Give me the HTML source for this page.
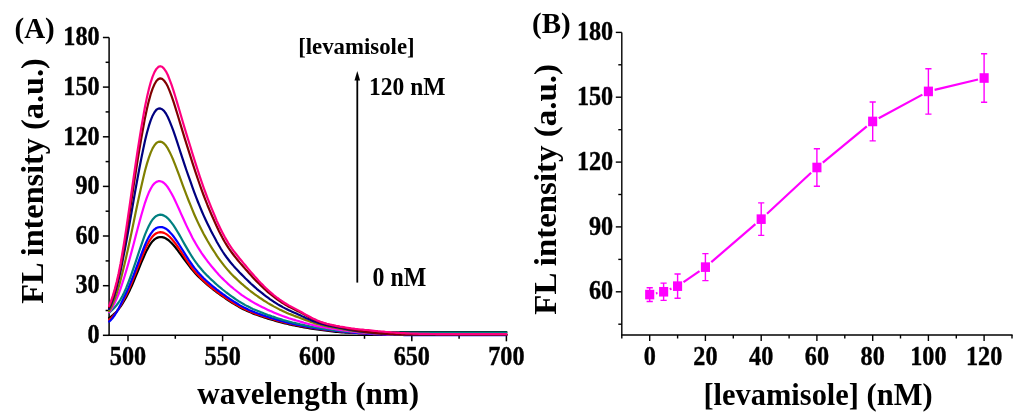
<!DOCTYPE html>
<html><head><meta charset="utf-8"><style>
html,body{margin:0;padding:0;background:#fff;}
svg{display:block;will-change:transform;}
text{font-family:"Liberation Serif",serif;font-weight:bold;fill:#000;}
.tk{stroke:#000;stroke-width:0.4px;}
</style></head><body>
<svg width="1024" height="420" viewBox="0 0 1024 420">

<g stroke="#000" stroke-width="1.5" fill="none"><line x1="109.1" y1="37.5" x2="109.1" y2="335.3"/><line x1="108.4" y1="335.3" x2="507.1" y2="335.3"/><line x1="102.9" y1="335.3" x2="109.1" y2="335.3"/><line x1="105.6" y1="310.5" x2="109.1" y2="310.5"/><line x1="102.9" y1="285.7" x2="109.1" y2="285.7"/><line x1="105.6" y1="260.9" x2="109.1" y2="260.9"/><line x1="102.9" y1="236.0" x2="109.1" y2="236.0"/><line x1="105.6" y1="211.2" x2="109.1" y2="211.2"/><line x1="102.9" y1="186.4" x2="109.1" y2="186.4"/><line x1="105.6" y1="161.6" x2="109.1" y2="161.6"/><line x1="102.9" y1="136.8" x2="109.1" y2="136.8"/><line x1="105.6" y1="111.9" x2="109.1" y2="111.9"/><line x1="102.9" y1="87.1" x2="109.1" y2="87.1"/><line x1="105.6" y1="62.3" x2="109.1" y2="62.3"/><line x1="102.9" y1="37.5" x2="109.1" y2="37.5"/><line x1="128.0" y1="335.3" x2="128.0" y2="341.3"/><line x1="175.3" y1="335.3" x2="175.3" y2="338.8"/><line x1="222.6" y1="335.3" x2="222.6" y2="341.3"/><line x1="269.9" y1="335.3" x2="269.9" y2="338.8"/><line x1="317.2" y1="335.3" x2="317.2" y2="341.3"/><line x1="364.5" y1="335.3" x2="364.5" y2="338.8"/><line x1="411.8" y1="335.3" x2="411.8" y2="341.3"/><line x1="459.1" y1="335.3" x2="459.1" y2="338.8"/><line x1="506.4" y1="335.3" x2="506.4" y2="341.3"/></g>
<g fill="none" stroke-width="2.2" stroke-linejoin="round" stroke-linecap="round"><polyline points="109.1,317.9 111.0,316.6 112.9,315.1 114.8,313.4 116.7,311.4 118.6,309.2 120.5,306.7 122.3,303.9 124.2,300.8 126.1,297.5 128.0,293.8 129.9,289.9 131.8,285.7 133.7,281.2 135.6,276.6 137.5,272.0 139.4,267.3 141.3,262.7 143.2,258.2 145.0,254.0 146.9,250.1 148.8,246.7 150.7,243.7 152.6,241.2 154.5,239.4 156.4,238.1 158.3,237.4 160.2,237.0 162.1,237.1 164.0,237.6 165.9,238.5 167.8,239.7 169.6,241.2 171.5,243.0 173.4,245.0 175.3,247.3 177.2,249.7 179.1,252.3 181.0,254.9 182.9,257.5 184.8,260.1 186.7,262.7 188.6,265.2 190.5,267.7 192.3,269.9 194.2,272.1 196.1,274.2 198.0,276.1 199.9,278.0 201.8,279.8 203.7,281.5 205.6,283.2 207.5,284.8 209.4,286.4 211.3,288.0 213.2,289.5 215.1,290.9 216.9,292.3 218.8,293.7 220.7,295.1 222.6,296.4 224.5,297.7 226.4,299.0 228.3,300.3 230.2,301.5 232.1,302.7 234.0,303.9 235.9,305.0 237.8,306.1 239.6,307.2 241.5,308.2 243.4,309.2 245.3,310.1 247.2,311.0 249.1,311.8 251.0,312.6 252.9,313.4 254.8,314.1 256.7,314.8 258.6,315.5 260.5,316.2 262.4,316.8 264.2,317.4 266.1,318.0 268.0,318.6 269.9,319.2 271.8,319.8 273.7,320.3 275.6,320.9 277.5,321.4 279.4,321.9 281.3,322.4 283.2,322.9 285.1,323.4 286.9,323.8 288.8,324.3 290.7,324.7 292.6,325.1 294.5,325.5 296.4,325.9 298.3,326.2 300.2,326.6 302.1,327.0 304.0,327.3 305.9,327.6 307.8,328.0 309.7,328.3 311.5,328.6 313.4,328.9 315.3,329.2 317.2,329.5 319.1,329.7 321.0,330.0 322.9,330.2 324.8,330.5 326.7,330.7 328.6,331.0 330.5,331.2 332.4,331.4 334.2,331.6 336.1,331.8 338.0,332.0 339.9,332.2 341.8,332.3 343.7,332.5 345.6,332.6 347.5,332.7 349.4,332.8 351.3,332.9 353.2,332.9 355.1,333.0 357.0,333.0 358.8,333.1 360.7,333.1 362.6,333.1 364.5,333.1 366.4,333.1 368.3,333.1 370.2,333.0 372.1,333.0 374.0,333.0 375.9,332.9 377.8,332.9 379.7,332.8 381.5,332.8 383.4,332.7 385.3,332.7 387.2,332.6 389.1,332.6 391.0,332.5 392.9,332.4 394.8,332.4 396.7,332.3 398.6,332.3 400.5,332.2 402.4,332.2 404.3,332.1 406.1,332.1 408.0,332.1 409.9,332.0 411.8,332.0 413.7,332.0 415.6,332.0 417.5,332.0 419.4,332.0 421.3,332.0 423.2,332.0 425.1,332.0 427.0,332.0 428.8,332.0 430.7,332.0 432.6,332.0 434.5,332.0 436.4,332.0 438.3,332.0 440.2,332.0 442.1,332.0 444.0,332.0 445.9,332.0 447.8,332.0 449.7,332.0 451.6,332.0 453.4,332.0 455.3,332.0 457.2,332.0 459.1,332.0 461.0,332.0 462.9,332.0 464.8,332.0 466.7,332.0 468.6,332.0 470.5,332.0 472.4,332.0 474.3,332.0 476.1,332.0 478.0,332.0 479.9,332.0 481.8,332.0 483.7,332.0 485.6,332.0 487.5,332.0 489.4,332.0 491.3,332.0 493.2,332.0 495.1,332.0 497.0,332.0 498.9,332.0 500.7,332.0 502.6,332.0 504.5,332.0 506.4,332.0" stroke="#000000"/><polyline points="109.1,319.7 111.0,318.3 112.9,316.4 114.8,314.2 116.7,311.6 118.6,308.8 120.5,305.7 122.3,302.4 124.2,298.8 126.1,295.2 128.0,291.3 129.9,287.1 131.8,282.6 133.7,277.9 135.6,273.1 137.5,268.2 139.4,263.3 141.3,258.5 143.2,253.9 145.0,249.5 146.9,245.5 148.8,241.9 150.7,238.9 152.6,236.4 154.5,234.5 156.4,233.3 158.3,232.5 160.2,232.2 162.1,232.4 164.0,232.9 165.9,233.9 167.8,235.2 169.6,236.8 171.5,238.8 173.4,241.0 175.3,243.4 177.2,246.0 179.1,248.7 181.0,251.6 182.9,254.5 184.8,257.5 186.7,260.3 188.6,263.1 190.5,265.8 192.3,268.4 194.2,270.8 196.1,273.0 198.0,275.1 199.9,277.1 201.8,279.0 203.7,280.8 205.6,282.5 207.5,284.2 209.4,285.8 211.3,287.3 213.2,288.8 215.1,290.2 216.9,291.7 218.8,293.0 220.7,294.4 222.6,295.7 224.5,297.0 226.4,298.3 228.3,299.6 230.2,300.8 232.1,302.0 234.0,303.2 235.9,304.3 237.8,305.4 239.6,306.5 241.5,307.5 243.4,308.4 245.3,309.4 247.2,310.2 249.1,311.1 251.0,311.9 252.9,312.6 254.8,313.4 256.7,314.1 258.6,314.7 260.5,315.4 262.4,316.0 264.2,316.6 266.1,317.2 268.0,317.8 269.9,318.4 271.8,319.0 273.7,319.5 275.6,320.1 277.5,320.6 279.4,321.1 281.3,321.6 283.2,322.1 285.1,322.6 286.9,323.0 288.8,323.5 290.7,323.9 292.6,324.3 294.5,324.7 296.4,325.1 298.3,325.5 300.2,325.8 302.1,326.2 304.0,326.5 305.9,326.8 307.8,327.2 309.7,327.5 311.5,327.8 313.4,328.1 315.3,328.4 317.2,328.7 319.1,328.9 321.0,329.2 322.9,329.4 324.8,329.7 326.7,329.9 328.6,330.1 330.5,330.4 332.4,330.6 334.2,330.8 336.1,331.0 338.0,331.2 339.9,331.4 341.8,331.6 343.7,331.8 345.6,332.0 347.5,332.2 349.4,332.4 351.3,332.6 353.2,332.7 355.1,332.9 357.0,333.0 358.8,333.1 360.7,333.3 362.6,333.4 364.5,333.5 366.4,333.6 368.3,333.7 370.2,333.9 372.1,334.0 374.0,334.1 375.9,334.1 377.8,334.2 379.7,334.3 381.5,334.4 383.4,334.5 385.3,334.5 387.2,334.6 389.1,334.6 391.0,334.7 392.9,334.7 394.8,334.8 396.7,334.8 398.6,334.8 400.5,334.9 402.4,334.9 404.3,334.9 406.1,334.9 408.0,334.9 409.9,335.0 411.8,335.0 413.7,335.0 415.6,335.0 417.5,335.0 419.4,335.0 421.3,335.0 423.2,335.0 425.1,335.0 427.0,335.0 428.8,335.0 430.7,335.0 432.6,335.0 434.5,335.0 436.4,335.0 438.3,335.0 440.2,335.0 442.1,335.0 444.0,335.0 445.9,335.0 447.8,335.0 449.7,335.0 451.6,335.0 453.4,335.0 455.3,335.0 457.2,335.0 459.1,335.0 461.0,335.0 462.9,335.0 464.8,335.0 466.7,335.0 468.6,335.0 470.5,335.0 472.4,335.0 474.3,335.0 476.1,335.0 478.0,335.0 479.9,335.0 481.8,335.0 483.7,335.0 485.6,335.0 487.5,335.0 489.4,335.0 491.3,335.0 493.2,335.0 495.1,335.0 497.0,335.0 498.9,335.0 500.7,335.0 502.6,335.0 504.5,335.0 506.4,335.0" stroke="#ff0000"/><polyline points="109.1,321.6 111.0,319.9 112.9,317.7 114.8,315.0 116.7,311.9 118.6,308.5 120.5,304.8 122.3,301.0 124.2,297.0 126.1,293.0 128.0,288.9 129.9,284.4 131.8,279.7 133.7,274.8 135.6,269.7 137.5,264.6 139.4,259.4 141.3,254.4 143.2,249.5 145.0,245.0 146.9,240.8 148.8,237.1 150.7,233.9 152.6,231.3 154.5,229.3 156.4,228.0 158.3,227.3 160.2,227.0 162.1,227.1 164.0,227.7 165.9,228.7 167.8,230.1 169.6,231.9 171.5,233.9 173.4,236.3 175.3,238.8 177.2,241.6 179.1,244.5 181.0,247.5 182.9,250.5 184.8,253.6 186.7,256.6 188.6,259.6 190.5,262.4 192.3,265.0 194.2,267.6 196.1,269.9 198.0,272.2 199.9,274.3 201.8,276.3 203.7,278.2 205.6,280.0 207.5,281.7 209.4,283.4 211.3,285.0 213.2,286.6 215.1,288.1 216.9,289.6 218.8,291.0 220.7,292.5 222.6,293.9 224.5,295.2 226.4,296.6 228.3,297.9 230.2,299.2 232.1,300.4 234.0,301.6 235.9,302.8 237.8,304.0 239.6,305.1 241.5,306.1 243.4,307.1 245.3,308.1 247.2,309.0 249.1,309.9 251.0,310.7 252.9,311.5 254.8,312.3 256.7,313.0 258.6,313.7 260.5,314.4 262.4,315.1 264.2,315.7 266.1,316.4 268.0,317.0 269.9,317.6 271.8,318.2 273.7,318.8 275.6,319.3 277.5,319.9 279.4,320.4 281.3,321.0 283.2,321.5 285.1,322.0 286.9,322.4 288.8,322.9 290.7,323.3 292.6,323.8 294.5,324.2 296.4,324.6 298.3,325.0 300.2,325.3 302.1,325.7 304.0,326.1 305.9,326.4 307.8,326.8 309.7,327.1 311.5,327.4 313.4,327.8 315.3,328.1 317.2,328.4 319.1,328.6 321.0,328.9 322.9,329.2 324.8,329.4 326.7,329.7 328.6,329.9 330.5,330.1 332.4,330.4 334.2,330.6 336.1,330.8 338.0,331.0 339.9,331.3 341.8,331.5 343.7,331.7 345.6,331.9 347.5,332.1 349.4,332.3 351.3,332.5 353.2,332.6 355.1,332.8 357.0,332.9 358.8,333.1 360.7,333.2 362.6,333.4 364.5,333.5 366.4,333.6 368.3,333.7 370.2,333.9 372.1,334.0 374.0,334.1 375.9,334.2 377.8,334.3 379.7,334.4 381.5,334.5 383.4,334.5 385.3,334.6 387.2,334.7 389.1,334.7 391.0,334.8 392.9,334.8 394.8,334.9 396.7,334.9 398.6,335.0 400.5,335.0 402.4,335.0 404.3,335.1 406.1,335.1 408.0,335.1 409.9,335.1 411.8,335.1 413.7,335.1 415.6,335.1 417.5,335.1 419.4,335.1 421.3,335.1 423.2,335.1 425.1,335.1 427.0,335.1 428.8,335.1 430.7,335.1 432.6,335.1 434.5,335.1 436.4,335.1 438.3,335.1 440.2,335.1 442.1,335.1 444.0,335.1 445.9,335.1 447.8,335.1 449.7,335.1 451.6,335.1 453.4,335.1 455.3,335.1 457.2,335.1 459.1,335.1 461.0,335.1 462.9,335.1 464.8,335.1 466.7,335.1 468.6,335.1 470.5,335.1 472.4,335.1 474.3,335.1 476.1,335.1 478.0,335.1 479.9,335.1 481.8,335.1 483.7,335.1 485.6,335.1 487.5,335.1 489.4,335.1 491.3,335.1 493.2,335.1 495.1,335.1 497.0,335.1 498.9,335.1 500.7,335.1 502.6,335.1 504.5,335.1 506.4,335.1" stroke="#0000ff"/><polyline points="109.1,312.6 111.0,311.0 112.9,309.2 114.8,307.2 116.7,305.0 118.6,302.5 120.5,299.5 122.3,296.2 124.2,292.4 126.1,288.2 128.0,283.5 129.9,278.5 131.8,273.2 133.7,267.7 135.6,262.1 137.5,256.3 139.4,250.6 141.3,245.1 143.2,239.7 145.0,234.7 146.9,230.1 148.8,226.0 150.7,222.4 152.6,219.5 154.5,217.4 156.4,215.9 158.3,215.1 160.2,214.7 162.1,214.9 164.0,215.6 165.9,216.7 167.8,218.3 169.6,220.3 171.5,222.6 173.4,225.2 175.3,228.1 177.2,231.2 179.1,234.4 181.0,237.8 182.9,241.2 184.8,244.6 186.7,247.9 188.6,251.1 190.5,254.2 192.3,257.2 194.2,260.0 196.1,262.7 198.0,265.2 199.9,267.5 201.8,269.8 203.7,271.9 205.6,273.9 207.5,275.9 209.4,277.8 211.3,279.6 213.2,281.3 215.1,283.1 216.9,284.7 218.8,286.4 220.7,287.9 222.6,289.5 224.5,291.0 226.4,292.5 228.3,293.9 230.2,295.3 232.1,296.7 234.0,298.0 235.9,299.3 237.8,300.6 239.6,301.8 241.5,302.9 243.4,304.0 245.3,305.1 247.2,306.1 249.1,307.0 251.0,308.0 252.9,308.9 254.8,309.7 256.7,310.5 258.6,311.3 260.5,312.1 262.4,312.8 264.2,313.6 266.1,314.3 268.0,315.0 269.9,315.6 271.8,316.3 273.7,316.9 275.6,317.6 277.5,318.2 279.4,318.8 281.3,319.4 283.2,320.0 285.1,320.5 286.9,321.0 288.8,321.5 290.7,322.0 292.6,322.5 294.5,322.9 296.4,323.4 298.3,323.8 300.2,324.3 302.1,324.7 304.0,325.1 305.9,325.5 307.8,325.9 309.7,326.3 311.5,326.6 313.4,327.0 315.3,327.3 317.2,327.7 319.1,328.0 321.0,328.3 322.9,328.6 324.8,328.9 326.7,329.1 328.6,329.4 330.5,329.6 332.4,329.9 334.2,330.1 336.1,330.3 338.0,330.6 339.9,330.8 341.8,331.0 343.7,331.2 345.6,331.4 347.5,331.6 349.4,331.7 351.3,331.8 353.2,332.0 355.1,332.1 357.0,332.2 358.8,332.3 360.7,332.4 362.6,332.4 364.5,332.5 366.4,332.6 368.3,332.6 370.2,332.7 372.1,332.7 374.0,332.7 375.9,332.8 377.8,332.8 379.7,332.8 381.5,332.8 383.4,332.8 385.3,332.8 387.2,332.8 389.1,332.8 391.0,332.8 392.9,332.8 394.8,332.8 396.7,332.8 398.6,332.7 400.5,332.7 402.4,332.7 404.3,332.7 406.1,332.7 408.0,332.7 409.9,332.7 411.8,332.7 413.7,332.7 415.6,332.7 417.5,332.7 419.4,332.7 421.3,332.7 423.2,332.7 425.1,332.7 427.0,332.7 428.8,332.7 430.7,332.7 432.6,332.7 434.5,332.7 436.4,332.7 438.3,332.7 440.2,332.7 442.1,332.7 444.0,332.7 445.9,332.7 447.8,332.7 449.7,332.7 451.6,332.7 453.4,332.7 455.3,332.7 457.2,332.7 459.1,332.7 461.0,332.7 462.9,332.7 464.8,332.7 466.7,332.7 468.6,332.7 470.5,332.7 472.4,332.7 474.3,332.7 476.1,332.7 478.0,332.7 479.9,332.7 481.8,332.7 483.7,332.7 485.6,332.7 487.5,332.7 489.4,332.7 491.3,332.7 493.2,332.7 495.1,332.7 497.0,332.7 498.9,332.7 500.7,332.7 502.6,332.7 504.5,332.7 506.4,332.7" stroke="#008080"/><polyline points="109.1,312.1 111.0,309.5 112.9,306.4 114.8,302.8 116.7,298.6 118.6,294.0 120.5,288.9 122.3,283.4 124.2,277.5 126.1,271.3 128.0,264.8 129.9,258.0 131.8,250.9 133.7,243.7 135.6,236.4 137.5,229.2 139.4,222.1 141.3,215.3 143.2,208.8 145.0,202.8 146.9,197.4 148.8,192.6 150.7,188.7 152.6,185.5 154.5,183.3 156.4,181.9 158.3,181.2 160.2,181.2 162.1,181.8 164.0,183.0 165.9,184.9 167.8,187.3 169.6,190.2 171.5,193.5 173.4,197.1 175.3,201.0 177.2,205.1 179.1,209.3 181.0,213.6 182.9,217.8 184.8,222.0 186.7,226.1 188.6,230.0 190.5,233.8 192.3,237.4 194.2,240.9 196.1,244.2 198.0,247.4 199.9,250.4 201.8,253.3 203.7,256.0 205.6,258.6 207.5,261.2 209.4,263.6 211.3,266.0 213.2,268.2 215.1,270.5 216.9,272.6 218.8,274.7 220.7,276.7 222.6,278.6 224.5,280.5 226.4,282.3 228.3,284.1 230.2,285.8 232.1,287.4 234.0,289.0 235.9,290.5 237.8,292.0 239.6,293.4 241.5,294.8 243.4,296.1 245.3,297.4 247.2,298.6 249.1,299.8 251.0,301.0 252.9,302.1 254.8,303.2 256.7,304.2 258.6,305.3 260.5,306.2 262.4,307.2 264.2,308.1 266.1,309.0 268.0,309.9 269.9,310.8 271.8,311.6 273.7,312.4 275.6,313.2 277.5,314.0 279.4,314.8 281.3,315.5 283.2,316.2 285.1,316.9 286.9,317.5 288.8,318.2 290.7,318.8 292.6,319.4 294.5,319.9 296.4,320.5 298.3,321.0 300.2,321.6 302.1,322.1 304.0,322.7 305.9,323.2 307.8,323.7 309.7,324.2 311.5,324.7 313.4,325.2 315.3,325.6 317.2,326.1 319.1,326.5 321.0,326.8 322.9,327.2 324.8,327.5 326.7,327.9 328.6,328.2 330.5,328.5 332.4,328.8 334.2,329.0 336.1,329.3 338.0,329.6 339.9,329.9 341.8,330.2 343.7,330.5 345.6,330.7 347.5,331.0 349.4,331.2 351.3,331.5 353.2,331.7 355.1,331.9 357.0,332.1 358.8,332.3 360.7,332.5 362.6,332.6 364.5,332.8 366.4,333.0 368.3,333.1 370.2,333.3 372.1,333.4 374.0,333.5 375.9,333.7 377.8,333.8 379.7,333.9 381.5,334.0 383.4,334.1 385.3,334.2 387.2,334.3 389.1,334.3 391.0,334.4 392.9,334.5 394.8,334.5 396.7,334.6 398.6,334.6 400.5,334.7 402.4,334.7 404.3,334.7 406.1,334.8 408.0,334.8 409.9,334.8 411.8,334.8 413.7,334.8 415.6,334.8 417.5,334.8 419.4,334.8 421.3,334.8 423.2,334.8 425.1,334.8 427.0,334.8 428.8,334.8 430.7,334.8 432.6,334.8 434.5,334.8 436.4,334.8 438.3,334.8 440.2,334.8 442.1,334.8 444.0,334.8 445.9,334.8 447.8,334.8 449.7,334.8 451.6,334.8 453.4,334.8 455.3,334.8 457.2,334.8 459.1,334.8 461.0,334.8 462.9,334.8 464.8,334.8 466.7,334.8 468.6,334.8 470.5,334.8 472.4,334.8 474.3,334.8 476.1,334.8 478.0,334.8 479.9,334.8 481.8,334.8 483.7,334.8 485.6,334.8 487.5,334.8 489.4,334.8 491.3,334.8 493.2,334.8 495.1,334.8 497.0,334.8 498.9,334.8 500.7,334.8 502.6,334.8 504.5,334.8 506.4,334.8" stroke="#ff00ff"/><polyline points="109.1,311.1 111.0,307.8 112.9,303.7 114.8,298.9 116.7,293.5 118.6,287.3 120.5,280.6 122.3,273.3 124.2,265.5 126.1,257.4 128.0,249.0 129.9,240.2 131.8,231.2 133.7,222.0 135.6,212.8 137.5,203.8 139.4,194.9 141.3,186.4 143.2,178.3 145.0,170.7 146.9,163.9 148.8,157.8 150.7,152.6 152.6,148.4 154.5,145.2 156.4,143.0 158.3,141.9 160.2,141.6 162.1,142.1 164.0,143.5 165.9,145.6 167.8,148.4 169.6,151.9 171.5,155.9 173.4,160.3 175.3,165.1 177.2,170.1 179.1,175.2 181.0,180.4 182.9,185.6 184.8,190.7 186.7,195.7 188.6,200.5 190.5,205.2 192.3,209.7 194.2,214.2 196.1,218.5 198.0,222.6 199.9,226.5 201.8,230.3 203.7,234.0 205.6,237.4 207.5,240.8 209.4,244.0 211.3,247.1 213.2,250.1 215.1,253.0 216.9,255.9 218.8,258.6 220.7,261.2 222.6,263.7 224.5,266.1 226.4,268.4 228.3,270.6 230.2,272.7 232.1,274.7 234.0,276.6 235.9,278.4 237.8,280.2 239.6,281.9 241.5,283.6 243.4,285.2 245.3,286.9 247.2,288.4 249.1,290.0 251.0,291.5 252.9,292.9 254.8,294.3 256.7,295.7 258.6,297.0 260.5,298.3 262.4,299.5 264.2,300.8 266.1,301.9 268.0,303.1 269.9,304.2 271.8,305.3 273.7,306.4 275.6,307.4 277.5,308.4 279.4,309.4 281.3,310.3 283.2,311.2 285.1,312.1 286.9,312.9 288.8,313.7 290.7,314.4 292.6,315.1 294.5,315.9 296.4,316.6 298.3,317.3 300.2,318.0 302.1,318.7 304.0,319.4 305.9,320.1 307.8,320.8 309.7,321.5 311.5,322.2 313.4,322.8 315.3,323.4 317.2,323.9 319.1,324.5 321.0,325.0 322.9,325.4 324.8,325.8 326.7,326.2 328.6,326.6 330.5,327.0 332.4,327.3 334.2,327.7 336.1,328.0 338.0,328.3 339.9,328.7 341.8,329.0 343.7,329.4 345.6,329.7 347.5,330.0 349.4,330.3 351.3,330.6 353.2,330.9 355.1,331.1 357.0,331.4 358.8,331.6 360.7,331.9 362.6,332.1 364.5,332.3 366.4,332.5 368.3,332.7 370.2,332.9 372.1,333.1 374.0,333.2 375.9,333.4 377.8,333.5 379.7,333.7 381.5,333.8 383.4,333.9 385.3,334.0 387.2,334.1 389.1,334.2 391.0,334.3 392.9,334.4 394.8,334.5 396.7,334.5 398.6,334.6 400.5,334.6 402.4,334.7 404.3,334.7 406.1,334.7 408.0,334.8 409.9,334.8 411.8,334.8 413.7,334.8 415.6,334.8 417.5,334.8 419.4,334.8 421.3,334.8 423.2,334.8 425.1,334.8 427.0,334.8 428.8,334.8 430.7,334.8 432.6,334.8 434.5,334.8 436.4,334.8 438.3,334.8 440.2,334.8 442.1,334.8 444.0,334.8 445.9,334.8 447.8,334.8 449.7,334.8 451.6,334.8 453.4,334.8 455.3,334.8 457.2,334.8 459.1,334.8 461.0,334.8 462.9,334.8 464.8,334.8 466.7,334.8 468.6,334.8 470.5,334.8 472.4,334.8 474.3,334.8 476.1,334.8 478.0,334.8 479.9,334.8 481.8,334.8 483.7,334.8 485.6,334.8 487.5,334.8 489.4,334.8 491.3,334.8 493.2,334.8 495.1,334.8 497.0,334.8 498.9,334.8 500.7,334.8 502.6,334.8 504.5,334.8 506.4,334.8" stroke="#808000"/><polyline points="109.1,308.8 111.0,304.7 112.9,299.6 114.8,293.8 116.7,287.1 118.6,279.6 120.5,271.3 122.3,262.3 124.2,252.7 126.1,242.7 128.0,232.3 129.9,221.6 131.8,210.7 133.7,199.8 135.6,189.0 137.5,178.5 139.4,168.3 141.3,158.5 143.2,149.3 145.0,140.8 146.9,133.0 148.8,126.2 150.7,120.4 152.6,115.7 154.5,112.2 156.4,109.8 158.3,108.6 160.2,108.4 162.1,109.2 164.0,110.9 165.9,113.5 167.8,117.0 169.6,121.1 171.5,125.8 173.4,130.9 175.3,136.4 177.2,142.1 179.1,148.0 181.0,153.9 182.9,159.7 184.8,165.4 186.7,171.0 188.6,176.4 190.5,181.7 192.3,186.9 194.2,192.1 196.1,197.1 198.0,202.0 199.9,206.7 201.8,211.2 203.7,215.6 205.6,219.8 207.5,223.8 209.4,227.6 211.3,231.4 213.2,235.1 215.1,238.6 216.9,242.0 218.8,245.3 220.7,248.5 222.6,251.5 224.5,254.3 226.4,257.0 228.3,259.5 230.2,262.0 232.1,264.2 234.0,266.4 235.9,268.5 237.8,270.5 239.6,272.5 241.5,274.4 243.4,276.3 245.3,278.2 247.2,280.0 249.1,281.9 251.0,283.7 252.9,285.4 254.8,287.1 256.7,288.8 258.6,290.4 260.5,291.9 262.4,293.4 264.2,294.9 266.1,296.3 268.0,297.7 269.9,299.1 271.8,300.4 273.7,301.7 275.6,302.9 277.5,304.1 279.4,305.2 281.3,306.3 283.2,307.4 285.1,308.4 286.9,309.3 288.8,310.2 290.7,311.1 292.6,311.9 294.5,312.8 296.4,313.6 298.3,314.4 300.2,315.3 302.1,316.2 304.0,317.0 305.9,317.9 307.8,318.7 309.7,319.6 311.5,320.4 313.4,321.1 315.3,321.8 317.2,322.5 319.1,323.1 321.0,323.7 322.9,324.2 324.8,324.7 326.7,325.2 328.6,325.6 330.5,326.0 332.4,326.4 334.2,326.7 336.1,327.1 338.0,327.5 339.9,327.8 341.8,328.2 343.7,328.6 345.6,329.0 347.5,329.3 349.4,329.7 351.3,330.0 353.2,330.3 355.1,330.6 357.0,330.9 358.8,331.2 360.7,331.4 362.6,331.7 364.5,331.9 366.4,332.1 368.3,332.3 370.2,332.5 372.1,332.7 374.0,332.9 375.9,333.1 377.8,333.3 379.7,333.4 381.5,333.6 383.4,333.7 385.3,333.8 387.2,333.9 389.1,334.0 391.0,334.1 392.9,334.2 394.8,334.3 396.7,334.4 398.6,334.4 400.5,334.5 402.4,334.5 404.3,334.5 406.1,334.6 408.0,334.6 409.9,334.6 411.8,334.6 413.7,334.6 415.6,334.6 417.5,334.6 419.4,334.6 421.3,334.6 423.2,334.6 425.1,334.6 427.0,334.6 428.8,334.6 430.7,334.6 432.6,334.6 434.5,334.6 436.4,334.6 438.3,334.6 440.2,334.6 442.1,334.6 444.0,334.6 445.9,334.6 447.8,334.6 449.7,334.6 451.6,334.6 453.4,334.6 455.3,334.6 457.2,334.6 459.1,334.6 461.0,334.6 462.9,334.6 464.8,334.6 466.7,334.6 468.6,334.6 470.5,334.6 472.4,334.6 474.3,334.6 476.1,334.6 478.0,334.6 479.9,334.6 481.8,334.6 483.7,334.6 485.6,334.6 487.5,334.6 489.4,334.6 491.3,334.6 493.2,334.6 495.1,334.6 497.0,334.6 498.9,334.6 500.7,334.6 502.6,334.6 504.5,334.6 506.4,334.6" stroke="#000080"/><polyline points="109.1,307.2 111.0,302.6 112.9,297.3 114.8,291.2 116.7,284.2 118.6,276.2 120.5,267.2 122.3,257.3 124.2,246.6 126.1,235.1 128.0,223.1 129.9,210.6 131.8,198.0 133.7,185.4 135.6,173.0 137.5,160.9 139.4,149.3 141.3,138.2 143.2,127.7 145.0,117.9 146.9,109.0 148.8,101.1 150.7,94.2 152.6,88.6 154.5,84.2 156.4,81.0 158.3,79.1 160.2,78.4 162.1,78.9 164.0,80.5 165.9,83.1 167.8,86.6 169.6,90.9 171.5,95.9 173.4,101.4 175.3,107.3 177.2,113.5 179.1,119.8 181.0,126.1 182.9,132.4 184.8,138.6 186.7,144.7 188.6,150.7 190.5,156.6 192.3,162.4 194.2,168.2 196.1,173.9 198.0,179.5 199.9,185.0 201.8,190.4 203.7,195.5 205.6,200.4 207.5,205.2 209.4,209.7 211.3,214.2 213.2,218.5 215.1,222.8 216.9,226.8 218.8,230.8 220.7,234.5 222.6,238.1 224.5,241.5 226.4,244.6 228.3,247.6 230.2,250.4 232.1,253.0 234.0,255.5 235.9,257.9 237.8,260.2 239.6,262.4 241.5,264.6 243.4,266.7 245.3,268.9 247.2,271.0 249.1,273.2 251.0,275.3 252.9,277.4 254.8,279.4 256.7,281.4 258.6,283.3 260.5,285.2 262.4,287.0 264.2,288.7 266.1,290.4 268.0,292.1 269.9,293.7 271.8,295.2 273.7,296.7 275.6,298.2 277.5,299.6 279.4,300.9 281.3,302.2 283.2,303.4 285.1,304.5 286.9,305.6 288.8,306.7 290.7,307.6 292.6,308.6 294.5,309.5 296.4,310.5 298.3,311.4 300.2,312.4 302.1,313.4 304.0,314.4 305.9,315.4 307.8,316.5 309.7,317.4 311.5,318.4 313.4,319.3 315.3,320.1 317.2,320.9 319.1,321.7 321.0,322.4 322.9,323.0 324.8,323.5 326.7,324.1 328.6,324.5 330.5,325.0 332.4,325.4 334.2,325.8 336.1,326.2 338.0,326.6 339.9,327.0 341.8,327.4 343.7,327.8 345.6,328.2 347.5,328.6 349.4,329.0 351.3,329.4 353.2,329.7 355.1,330.1 357.0,330.4 358.8,330.7 360.7,331.0 362.6,331.2 364.5,331.5 366.4,331.8 368.3,332.0 370.2,332.2 372.1,332.4 374.0,332.6 375.9,332.8 377.8,333.0 379.7,333.2 381.5,333.3 383.4,333.5 385.3,333.6 387.2,333.7 389.1,333.8 391.0,333.9 392.9,334.0 394.8,334.1 396.7,334.2 398.6,334.2 400.5,334.3 402.4,334.3 404.3,334.4 406.1,334.4 408.0,334.4 409.9,334.5 411.8,334.5 413.7,334.5 415.6,334.5 417.5,334.5 419.4,334.5 421.3,334.5 423.2,334.5 425.1,334.5 427.0,334.5 428.8,334.5 430.7,334.5 432.6,334.5 434.5,334.5 436.4,334.5 438.3,334.5 440.2,334.5 442.1,334.5 444.0,334.5 445.9,334.5 447.8,334.5 449.7,334.5 451.6,334.5 453.4,334.5 455.3,334.5 457.2,334.5 459.1,334.5 461.0,334.5 462.9,334.5 464.8,334.5 466.7,334.5 468.6,334.5 470.5,334.5 472.4,334.5 474.3,334.5 476.1,334.5 478.0,334.5 479.9,334.5 481.8,334.5 483.7,334.5 485.6,334.5 487.5,334.5 489.4,334.5 491.3,334.5 493.2,334.5 495.1,334.5 497.0,334.5 498.9,334.5 500.7,334.5 502.6,334.5 504.5,334.5 506.4,334.5" stroke="#800000"/><polyline points="109.1,305.9 111.0,301.0 112.9,295.5 114.8,289.1 116.7,281.7 118.6,273.4 120.5,264.0 122.3,253.5 124.2,242.1 126.1,229.9 128.0,217.0 129.9,203.8 131.8,190.5 133.7,177.2 135.6,164.1 137.5,151.5 139.4,139.3 141.3,127.8 143.2,116.9 145.0,106.8 146.9,97.6 148.8,89.4 150.7,82.4 152.6,76.6 154.5,72.1 156.4,68.9 158.3,66.9 160.2,66.2 162.1,66.8 164.0,68.6 165.9,71.3 167.8,75.0 169.6,79.6 171.5,84.7 173.4,90.4 175.3,96.5 177.2,102.9 179.1,109.3 181.0,115.8 182.9,122.3 184.8,128.6 186.7,134.9 188.6,141.0 190.5,147.0 192.3,153.1 194.2,159.1 196.1,165.1 198.0,171.0 199.9,176.8 201.8,182.4 203.7,187.8 205.6,193.0 207.5,198.1 209.4,202.9 211.3,207.6 213.2,212.2 215.1,216.7 216.9,221.1 218.8,225.2 220.7,229.2 222.6,233.0 224.5,236.6 226.4,239.9 228.3,243.1 230.2,246.0 232.1,248.8 234.0,251.4 235.9,253.8 237.8,256.2 239.6,258.5 241.5,260.8 243.4,263.1 245.3,265.3 247.2,267.6 249.1,269.9 251.0,272.1 252.9,274.3 254.8,276.5 256.7,278.6 258.6,280.7 260.5,282.7 262.4,284.6 264.2,286.5 266.1,288.3 268.0,290.0 269.9,291.7 271.8,293.4 273.7,295.0 275.6,296.5 277.5,298.0 279.4,299.4 281.3,300.7 283.2,302.0 285.1,303.2 286.9,304.3 288.8,305.4 290.7,306.4 292.6,307.4 294.5,308.4 296.4,309.4 298.3,310.4 300.2,311.4 302.1,312.5 304.0,313.6 305.9,314.7 307.8,315.7 309.7,316.8 311.5,317.8 313.4,318.7 315.3,319.6 317.2,320.5 319.1,321.2 321.0,322.0 322.9,322.6 324.8,323.2 326.7,323.8 328.6,324.2 330.5,324.7 332.4,325.1 334.2,325.5 336.1,325.9 338.0,326.2 339.9,326.6 341.8,326.9 343.7,327.2 345.6,327.5 347.5,327.8 349.4,328.1 351.3,328.4 353.2,328.6 355.1,328.9 357.0,329.1 358.8,329.3 360.7,329.5 362.6,329.7 364.5,329.9 366.4,330.0 368.3,330.2 370.2,330.4 372.1,330.6 374.0,330.8 375.9,331.0 377.8,331.2 379.7,331.3 381.5,331.5 383.4,331.7 385.3,331.9 387.2,332.0 389.1,332.2 391.0,332.4 392.9,332.5 394.8,332.6 396.7,332.8 398.6,332.9 400.5,333.0 402.4,333.1 404.3,333.2 406.1,333.3 408.0,333.4 409.9,333.5 411.8,333.5 413.7,333.6 415.6,333.7 417.5,333.7 419.4,333.8 421.3,333.8 423.2,333.8 425.1,333.9 427.0,333.9 428.8,333.9 430.7,334.0 432.6,334.0 434.5,334.0 436.4,334.1 438.3,334.1 440.2,334.1 442.1,334.1 444.0,334.1 445.9,334.1 447.8,334.1 449.7,334.1 451.6,334.1 453.4,334.1 455.3,334.1 457.2,334.1 459.1,334.1 461.0,334.1 462.9,334.1 464.8,334.1 466.7,334.1 468.6,334.1 470.5,334.1 472.4,334.1 474.3,334.1 476.1,334.1 478.0,334.1 479.9,334.1 481.8,334.1 483.7,334.1 485.6,334.1 487.5,334.1 489.4,334.1 491.3,334.1 493.2,334.1 495.1,334.1 497.0,334.1 498.9,334.1 500.7,334.1 502.6,334.1 504.5,334.1 506.4,334.1" stroke="#ff0080"/></g>
<line x1="357.3" y1="282.6" x2="357.3" y2="79" stroke="#000" stroke-width="1.8"/>
<path d="M357.3,71 L360.1,80.5 L354.5,80.5 Z" fill="#000"/>
<text x="14.524000000000001" y="37.7" font-size="29" text-anchor="start" >(A)</text><text class="tk" x="99.6" y="343.1" font-size="27.2" text-anchor="end" transform="translate(99.6 0) scale(0.89 1) translate(-99.6 0)">0</text><text class="tk" x="99.6" y="293.5" font-size="27.2" text-anchor="end" transform="translate(99.6 0) scale(0.89 1) translate(-99.6 0)">30</text><text class="tk" x="99.6" y="243.8" font-size="27.2" text-anchor="end" transform="translate(99.6 0) scale(0.89 1) translate(-99.6 0)">60</text><text class="tk" x="99.6" y="194.2" font-size="27.2" text-anchor="end" transform="translate(99.6 0) scale(0.89 1) translate(-99.6 0)">90</text><text class="tk" x="99.6" y="144.6" font-size="27.2" text-anchor="end" transform="translate(99.6 0) scale(0.89 1) translate(-99.6 0)">120</text><text class="tk" x="99.6" y="94.9" font-size="27.2" text-anchor="end" transform="translate(99.6 0) scale(0.89 1) translate(-99.6 0)">150</text><text class="tk" x="99.6" y="45.3" font-size="27.2" text-anchor="end" transform="translate(99.6 0) scale(0.89 1) translate(-99.6 0)">180</text><text class="tk" x="128.0" y="364.9" font-size="27.2" text-anchor="middle" transform="translate(128.0 0) scale(0.89 1) translate(-128.0 0)">500</text><text class="tk" x="222.6" y="364.9" font-size="27.2" text-anchor="middle" transform="translate(222.6 0) scale(0.89 1) translate(-222.6 0)">550</text><text class="tk" x="317.2" y="364.9" font-size="27.2" text-anchor="middle" transform="translate(317.2 0) scale(0.89 1) translate(-317.2 0)">600</text><text class="tk" x="411.8" y="364.9" font-size="27.2" text-anchor="middle" transform="translate(411.8 0) scale(0.89 1) translate(-411.8 0)">650</text><text class="tk" x="506.4" y="364.9" font-size="27.2" text-anchor="middle" transform="translate(506.4 0) scale(0.89 1) translate(-506.4 0)">700</text><text x="197.2" y="404.1" font-size="31.3" text-anchor="start" textLength="221.8" lengthAdjust="spacingAndGlyphs" >wavelength (nm)</text><text x="0" y="0" font-size="32" transform="translate(42.5 303.8) rotate(-90)" textLength="245.5" lengthAdjust="spacingAndGlyphs">FL intensity (a.u.)</text><text x="298.161" y="53.8" font-size="23.5" text-anchor="start" textLength="116.5" lengthAdjust="spacingAndGlyphs" >[levamisole]</text><text x="369.1" y="94.6" font-size="26" text-anchor="start" textLength="76.3" lengthAdjust="spacingAndGlyphs" >120 nM</text><text x="372.5" y="285.6" font-size="27" text-anchor="start" textLength="53.7" lengthAdjust="spacingAndGlyphs" >0 nM</text>
<g stroke="#000" stroke-width="1.4" fill="none"><line x1="621.8" y1="32.4" x2="621.8" y2="338.5"/><line x1="621.2" y1="335.0" x2="1012.6" y2="335.0"/><line x1="618.3" y1="324.2" x2="621.8" y2="324.2"/><line x1="615.8" y1="291.8" x2="621.8" y2="291.8"/><line x1="618.3" y1="259.4" x2="621.8" y2="259.4"/><line x1="615.8" y1="226.9" x2="621.8" y2="226.9"/><line x1="618.3" y1="194.5" x2="621.8" y2="194.5"/><line x1="615.8" y1="162.1" x2="621.8" y2="162.1"/><line x1="618.3" y1="129.7" x2="621.8" y2="129.7"/><line x1="615.8" y1="97.2" x2="621.8" y2="97.2"/><line x1="618.3" y1="64.8" x2="621.8" y2="64.8"/><line x1="615.8" y1="32.4" x2="621.8" y2="32.4"/><line x1="649.7" y1="335.0" x2="649.7" y2="341.0"/><line x1="677.6" y1="335.0" x2="677.6" y2="338.5"/><line x1="705.4" y1="335.0" x2="705.4" y2="341.0"/><line x1="733.3" y1="335.0" x2="733.3" y2="338.5"/><line x1="761.2" y1="335.0" x2="761.2" y2="341.0"/><line x1="789.1" y1="335.0" x2="789.1" y2="338.5"/><line x1="816.9" y1="335.0" x2="816.9" y2="341.0"/><line x1="844.8" y1="335.0" x2="844.8" y2="338.5"/><line x1="872.7" y1="335.0" x2="872.7" y2="341.0"/><line x1="900.5" y1="335.0" x2="900.5" y2="338.5"/><line x1="928.4" y1="335.0" x2="928.4" y2="341.0"/><line x1="956.3" y1="335.0" x2="956.3" y2="338.5"/><line x1="984.1" y1="335.0" x2="984.1" y2="341.0"/><line x1="1012.0" y1="335.0" x2="1012.0" y2="338.5"/></g>
<path d="M655.9,293.3L657.5,293.0M669.7,289.3L671.5,288.6M683.5,282.1L699.5,271.2M711.3,262.1L755.4,224.2M767.0,213.8L811.1,172.8M822.8,162.7L866.8,126.3M878.7,118.2L922.4,94.6M934.6,89.9L978.0,79.5" fill="none" stroke="#ff00ff" stroke-width="2.2"/><path d="M649.7,287.7V301.5M646.6,287.7H652.8M646.6,301.5H652.8" stroke="#ff00ff" stroke-width="1.4" fill="none"/><rect x="645.15" y="289.78" width="9.1" height="9.6" fill="#ff00ff"/><path d="M663.6,283.1V300.4M660.5,283.1H666.7M660.5,300.4H666.7" stroke="#ff00ff" stroke-width="1.4" fill="none"/><rect x="659.09" y="286.97" width="9.1" height="9.6" fill="#ff00ff"/><path d="M677.6,274.0V298.3M674.5,274.0H680.7M674.5,298.3H680.7" stroke="#ff00ff" stroke-width="1.4" fill="none"/><rect x="673.02" y="281.35" width="9.1" height="9.6" fill="#ff00ff"/><path d="M705.4,253.6V280.6M702.3,253.6H708.5M702.3,280.6H708.5" stroke="#ff00ff" stroke-width="1.4" fill="none"/><rect x="700.89" y="262.33" width="9.1" height="9.6" fill="#ff00ff"/><path d="M761.2,202.9V235.4M758.1,202.9H764.3M758.1,235.4H764.3" stroke="#ff00ff" stroke-width="1.4" fill="none"/><rect x="756.63" y="214.35" width="9.1" height="9.6" fill="#ff00ff"/><path d="M816.9,148.7V186.3M813.8,148.7H820.0M813.8,186.3H820.0" stroke="#ff00ff" stroke-width="1.4" fill="none"/><rect x="812.37" y="162.69" width="9.1" height="9.6" fill="#ff00ff"/><path d="M872.7,102.0V140.9M869.6,102.0H875.8M869.6,140.9H875.8" stroke="#ff00ff" stroke-width="1.4" fill="none"/><rect x="868.11" y="116.65" width="9.1" height="9.6" fill="#ff00ff"/><path d="M928.4,68.7V114.1M925.3,68.7H931.5M925.3,114.1H931.5" stroke="#ff00ff" stroke-width="1.4" fill="none"/><rect x="923.85" y="86.61" width="9.1" height="9.6" fill="#ff00ff"/><path d="M984.1,53.8V102.2M981.0,53.8H987.2M981.0,102.2H987.2" stroke="#ff00ff" stroke-width="1.4" fill="none"/><rect x="979.59" y="73.21" width="9.1" height="9.6" fill="#ff00ff"/>
<text x="532.024" y="32.5" font-size="29" text-anchor="start" >(B)</text><text class="tk" x="613.2" y="299.5" font-size="27.2" text-anchor="end" transform="translate(613.2 0) scale(0.89 1) translate(-613.2 0)">60</text><text class="tk" x="613.2" y="234.6" font-size="27.2" text-anchor="end" transform="translate(613.2 0) scale(0.89 1) translate(-613.2 0)">90</text><text class="tk" x="613.2" y="169.8" font-size="27.2" text-anchor="end" transform="translate(613.2 0) scale(0.89 1) translate(-613.2 0)">120</text><text class="tk" x="613.2" y="104.9" font-size="27.2" text-anchor="end" transform="translate(613.2 0) scale(0.89 1) translate(-613.2 0)">150</text><text class="tk" x="613.2" y="40.1" font-size="27.2" text-anchor="end" transform="translate(613.2 0) scale(0.89 1) translate(-613.2 0)">180</text><text class="tk" x="649.7" y="364.9" font-size="27.2" text-anchor="middle" transform="translate(649.7 0) scale(0.89 1) translate(-649.7 0)">0</text><text class="tk" x="705.4" y="364.9" font-size="27.2" text-anchor="middle" transform="translate(705.4 0) scale(0.89 1) translate(-705.4 0)">20</text><text class="tk" x="761.2" y="364.9" font-size="27.2" text-anchor="middle" transform="translate(761.2 0) scale(0.89 1) translate(-761.2 0)">40</text><text class="tk" x="816.9" y="364.9" font-size="27.2" text-anchor="middle" transform="translate(816.9 0) scale(0.89 1) translate(-816.9 0)">60</text><text class="tk" x="872.7" y="364.9" font-size="27.2" text-anchor="middle" transform="translate(872.7 0) scale(0.89 1) translate(-872.7 0)">80</text><text class="tk" x="928.4" y="364.9" font-size="27.2" text-anchor="middle" transform="translate(928.4 0) scale(0.89 1) translate(-928.4 0)">100</text><text class="tk" x="984.1" y="364.9" font-size="27.2" text-anchor="middle" transform="translate(984.1 0) scale(0.89 1) translate(-984.1 0)">120</text><text x="703.45" y="405.0" font-size="31.8" text-anchor="start" textLength="229.1" lengthAdjust="spacingAndGlyphs" >[levamisole] (nM)</text><text x="0" y="0" font-size="32.5" transform="translate(556 314.7) rotate(-90)" textLength="250.6" lengthAdjust="spacingAndGlyphs">FL intensity (a.u.)</text>
</svg></body></html>
